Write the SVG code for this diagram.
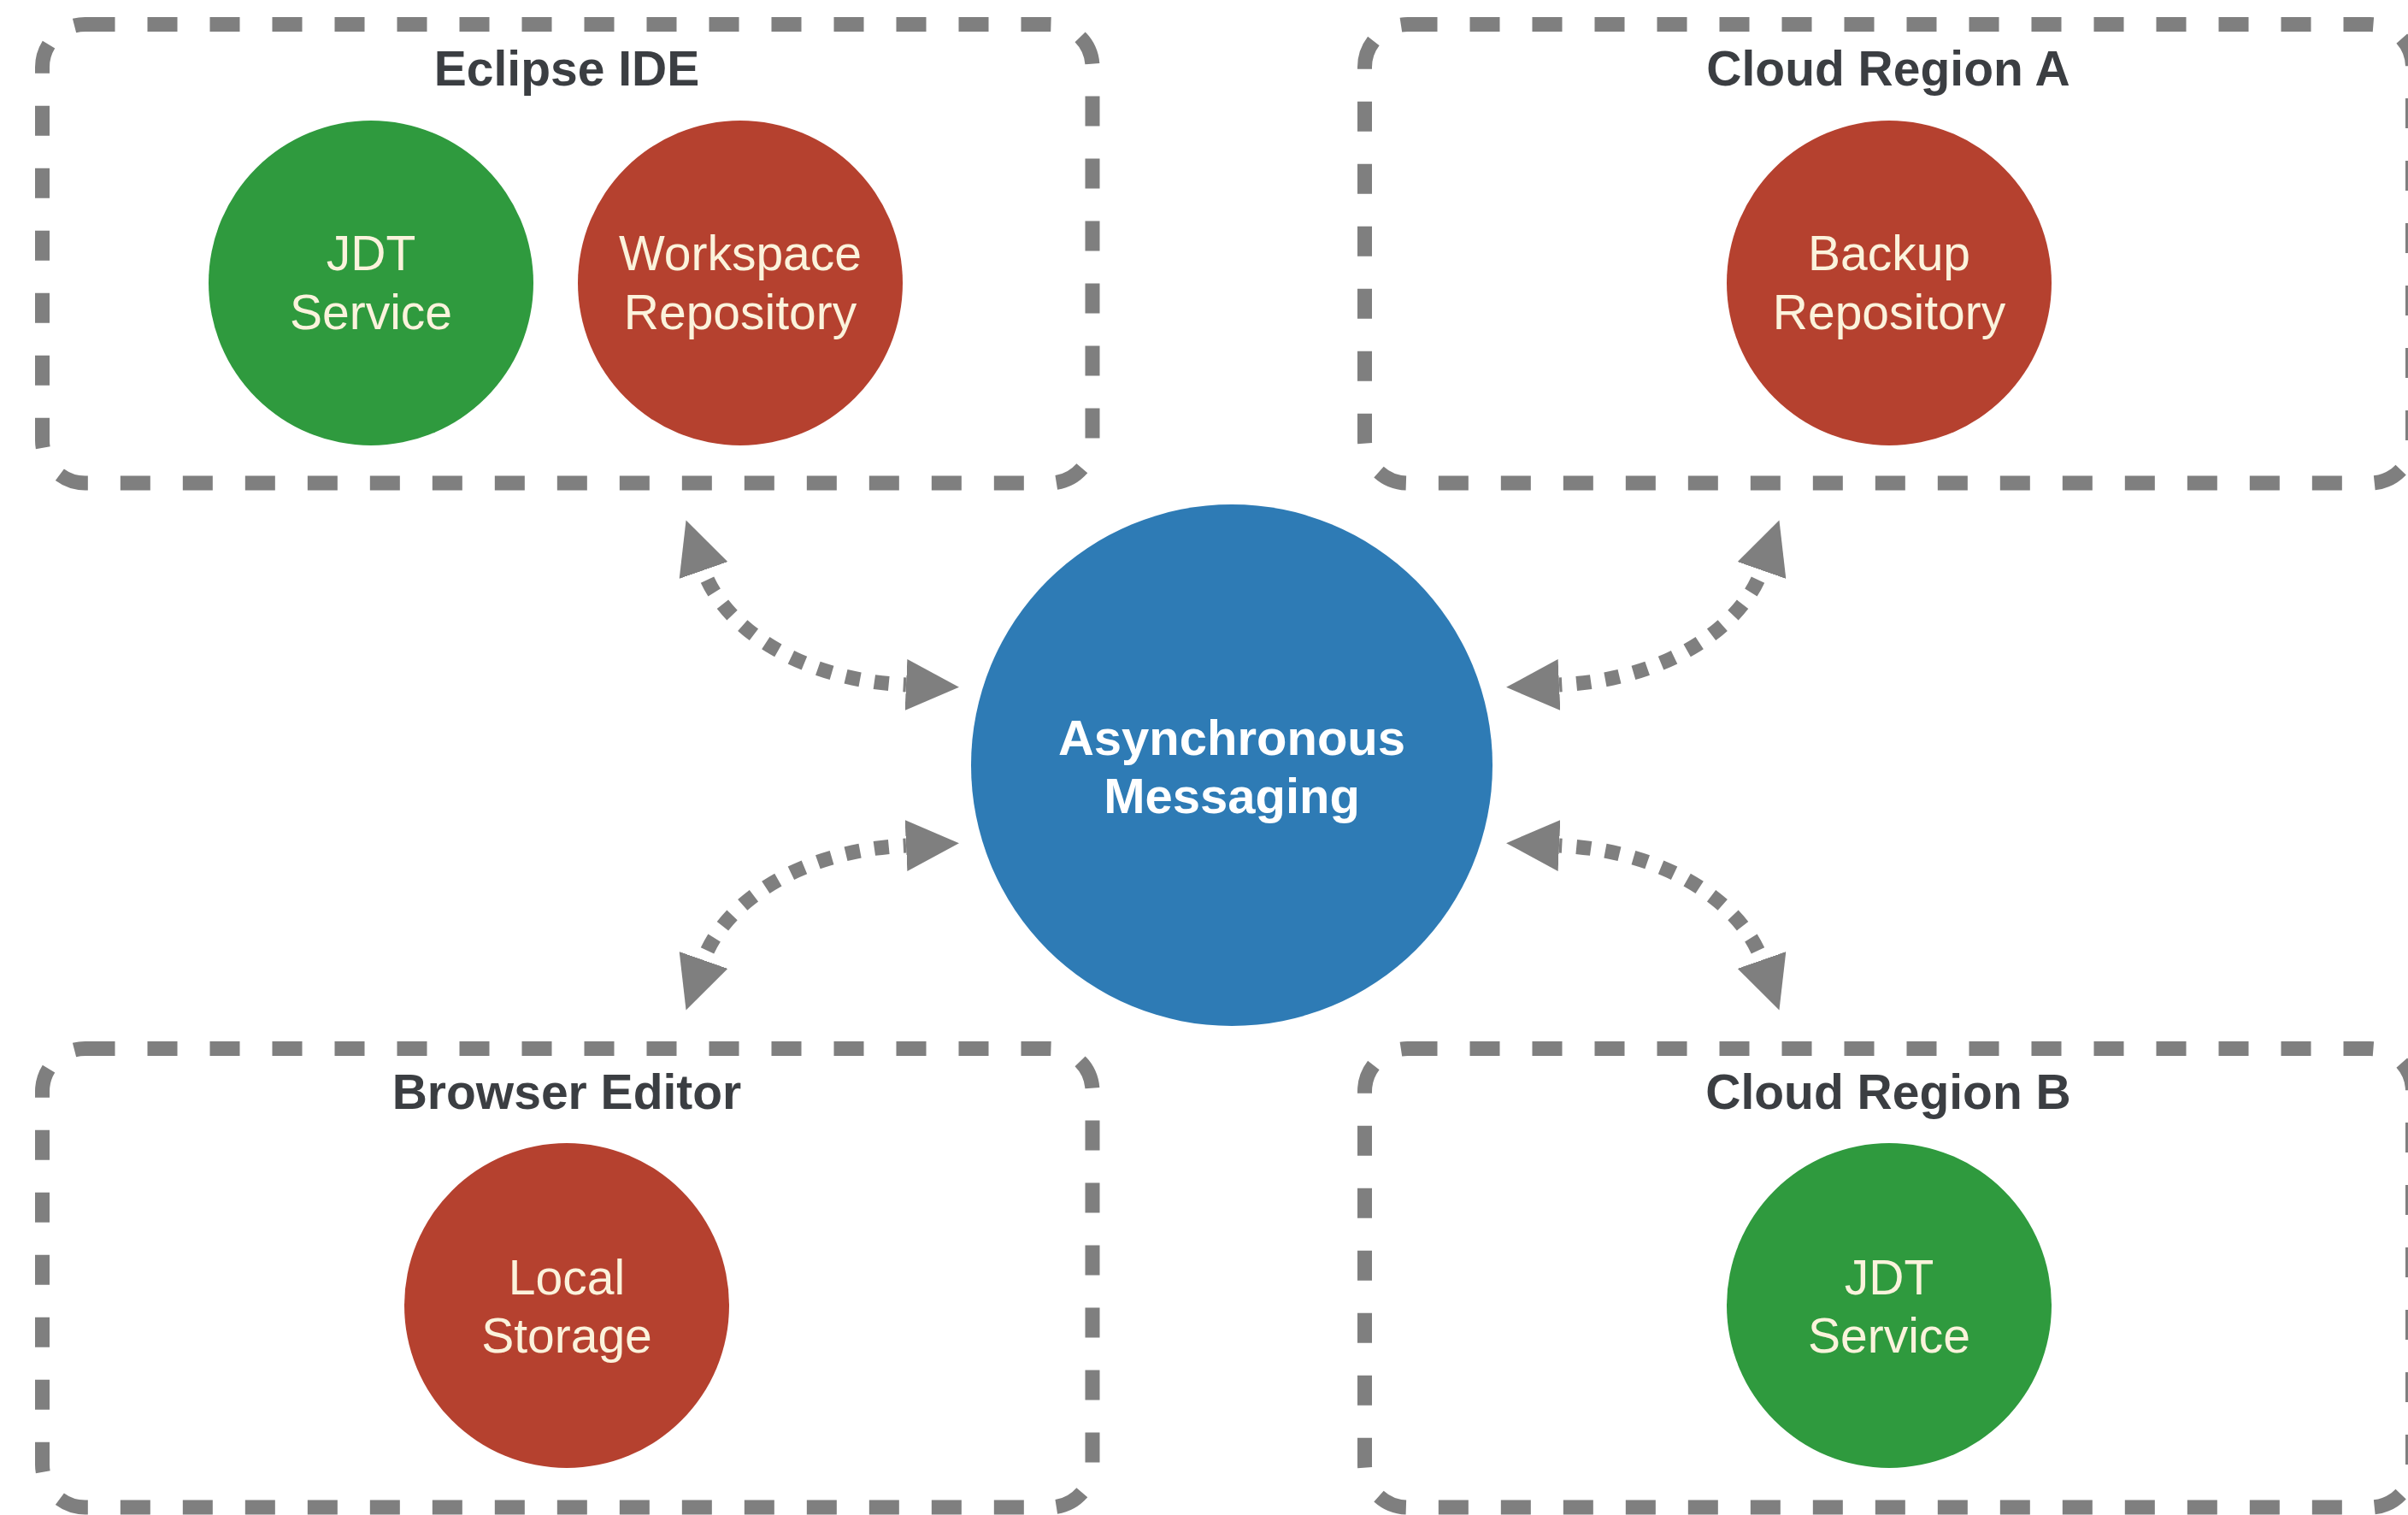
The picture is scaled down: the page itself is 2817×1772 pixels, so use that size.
<svg xmlns="http://www.w3.org/2000/svg" width="2817" height="1772" viewBox="0 0 2817 1772">
  <style>
    .box { fill: none; stroke: #7f7f7f; stroke-width: 17; stroke-dasharray: 35 38; }
    .title { font-family: "Liberation Sans", Arial, sans-serif; font-weight: bold; font-size: 57px; fill: #3b3e42; text-anchor: middle; }
    .lbl { font-family: "Liberation Sans", Arial, sans-serif; font-size: 57px; fill: #fbf3dc; text-anchor: middle; }
    .hub { font-family: "Liberation Sans", Arial, sans-serif; font-weight: bold; font-size: 58px; fill: #ffffff; text-anchor: middle; }
    .green { fill: #2f9a3e; }
    .red { fill: #b5412f; }
    .blue { fill: #2e7bb5; }
    .conn { fill: none; stroke: #7f7f7f; stroke-width: 17; stroke-dasharray: 17 17; stroke-dashoffset: 22; marker-start: url(#tri); marker-end: url(#tri); }
  </style>
  <defs>
    <marker id="tri" markerUnits="userSpaceOnUse" viewBox="0 0 62 60" refX="0" refY="30" markerWidth="62" markerHeight="60" orient="auto-start-reverse">
      <path d="M0,0 L62,30 L0,60 Z" fill="#7f7f7f"/>
    </marker>
  </defs>
  <rect width="2817" height="1772" fill="#ffffff"/>

  <g id="eclipse-ide">
    <rect class="box" x="49.5" y="28.5" width="1228.5" height="536.5" rx="50" ry="50"/>
    <text class="title" x="663" y="100">Eclipse IDE</text>
  </g>
  <g id="jdt-service-a">
    <circle class="green" cx="434" cy="331" r="190"/>
    <text class="lbl" x="434" y="316">JDT</text>
    <text class="lbl" x="434" y="385">Service</text>
  </g>
  <g id="workspace-repository">
    <circle class="red" cx="866" cy="331" r="190"/>
    <text class="lbl" x="866" y="316">Workspace</text>
    <text class="lbl" x="866" y="385">Repository</text>
  </g>

  <g id="cloud-region-a">
    <rect class="box" x="1596.5" y="28.5" width="1226" height="536.5" rx="50" ry="50"/>
    <text class="title" x="2209" y="100">Cloud Region A</text>
  </g>
  <g id="backup-repository">
    <circle class="red" cx="2210" cy="331" r="190"/>
    <text class="lbl" x="2210" y="316">Backup</text>
    <text class="lbl" x="2210" y="385">Repository</text>
  </g>

  <g id="browser-editor">
    <rect class="box" x="49.5" y="1226.5" width="1228.5" height="536.5" rx="50" ry="50"/>
    <text class="title" x="663" y="1297">Browser Editor</text>
  </g>
  <g id="local-storage">
    <circle class="red" cx="663" cy="1527" r="190"/>
    <text class="lbl" x="663" y="1514">Local</text>
    <text class="lbl" x="663" y="1582">Storage</text>
  </g>

  <g id="cloud-region-b">
    <rect class="box" x="1596.5" y="1226.5" width="1226" height="536.5" rx="50" ry="50"/>
    <text class="title" x="2209" y="1297">Cloud Region B</text>
  </g>
  <g id="jdt-service-b">
    <circle class="green" cx="2210" cy="1527" r="190"/>
    <text class="lbl" x="2210" y="1514">JDT</text>
    <text class="lbl" x="2210" y="1582">Service</text>
  </g>

  <g id="asynchronous-messaging">
    <circle class="blue" cx="1441" cy="895" r="305"/>
    <text class="hub" x="1441" y="883">Asynchronous</text>
    <text class="hub" x="1441" y="951">Messaging</text>
  </g>

  <g id="connectors">
    <path class="conn" d="M823,667 C845,730 930,795 1060,801"/>
    <path class="conn" d="M2061,667 C2039,730 1954,795 1824,801"/>
    <path class="conn" d="M823,1123 C845,1060 930,995 1060,989"/>
    <path class="conn" d="M2061,1123 C2039,1060 1954,995 1824,989"/>
  </g>
</svg>
